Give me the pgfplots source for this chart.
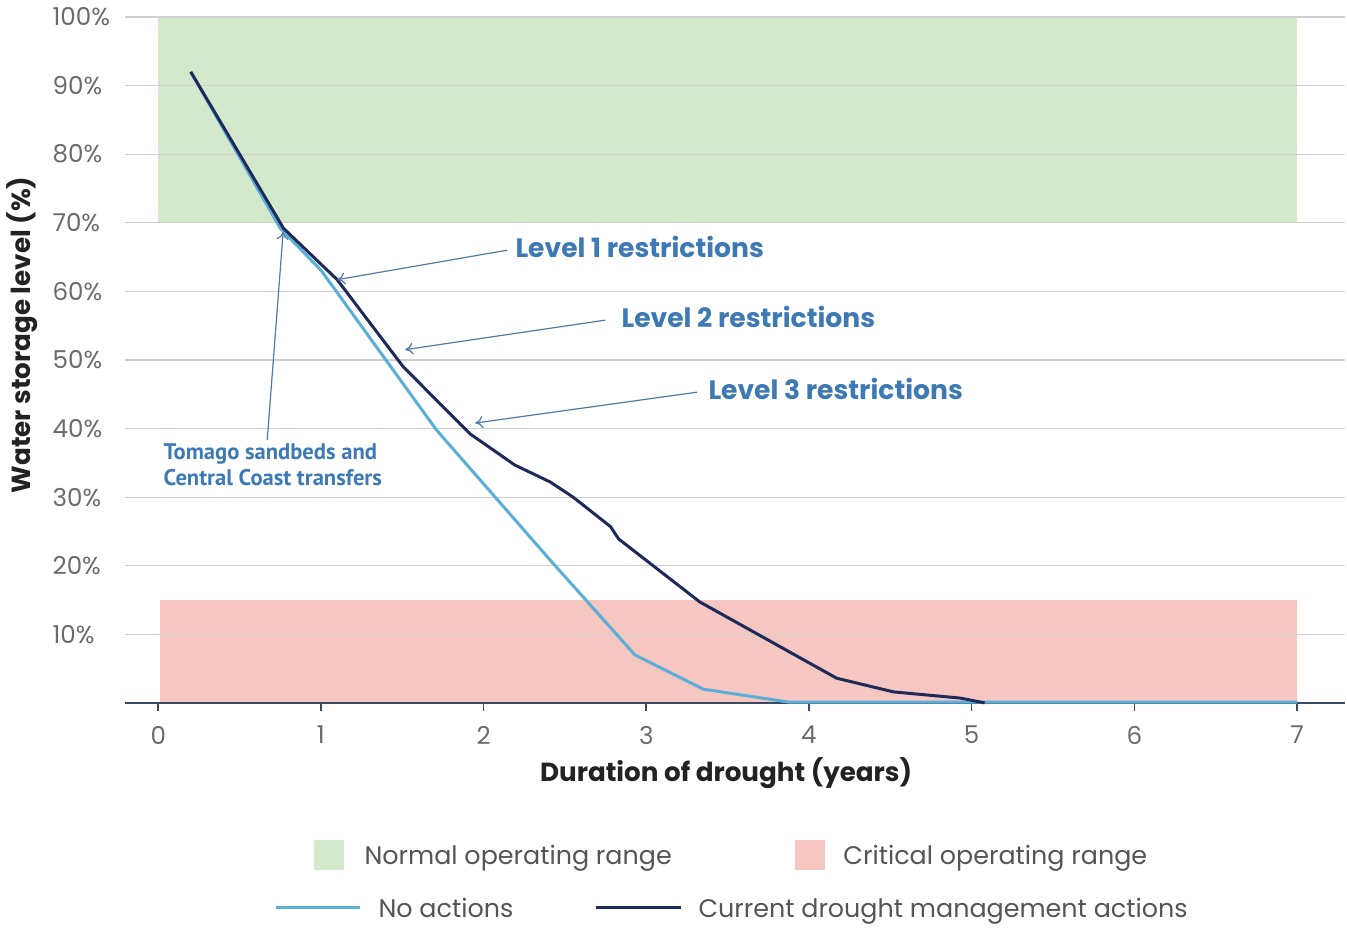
\documentclass[border=0pt]{standalone}
\usepackage{pgfplots}
\pgfplotsset{compat=1.18}
\usepackage{fontspec}
\setmainfont{Poppins}
\newfontfamily\tomagofont{PT Sans}
\definecolor{normgreen}{HTML}{D4E8CB}
\definecolor{critred}{HTML}{F6C6C1}
\definecolor{lightline}{HTML}{5AAFD9}
\definecolor{navyline}{HTML}{1E2A5A}
\definecolor{annot}{HTML}{3D7AB5}
\definecolor{arrowc}{HTML}{4F7BA6}
\definecolor{tickgray}{HTML}{6B6B6B}
\definecolor{gridgray}{HTML}{CFCFCF}
\definecolor{axisline}{HTML}{3B4A63}
\definecolor{labdark}{HTML}{222222}
\definecolor{legtext}{HTML}{555555}
\usetikzlibrary{arrows.meta}
\begin{document}
\begin{tikzpicture}
\begin{axis}[
  set layers,
  at={(0pt,0pt)}, anchor=south west,
  scale only axis, width=610pt, height=343pt,
  xmin=-0.203, xmax=7.295, ymin=0, ymax=100,
  axis x line*=bottom, axis y line*=left,
  x axis line style={draw=axisline, line width=1pt, -},
  y axis line style={draw=none},
  xtick={0,1,2,3,4,5,6,7},
  tick align=outside, major tick length=4pt,
  xtick style={draw=axisline, line width=0.8pt},
  ytick style={draw=none},
  ytick={10,20,30,40,50,60,70,80,90,100},
  yticklabels={10\%,20\%,30\%,40\%,50\%,60\%,70\%,80\%,90\%,100\%},
  ymajorgrids,
  major grid style={draw=gridgray, line width=0.6pt},
  /pgf/number format/assume math mode=true,
  xticklabel style={font=\fontsize{12.3}{14}\selectfont, text=tickgray, yshift=-4pt},
  yticklabel style={font=\fontsize{12.3}{14}\selectfont, text=tickgray, anchor=west, inner sep=0pt, xshift=-32.5pt},
  clip=false,
]
% operating ranges
\addplot[on layer=axis background, fill=normgreen, draw=none] coordinates {(0,70) (7,70) (7,100) (0,100)} -- cycle;
\addplot[on layer=axis background, fill=critred, draw=none] coordinates {(0.01,0) (7,0) (7,15) (0.01,15)} -- cycle;
% No actions
\addplot[lightline, line width=1.5pt, line join=round] coordinates {
 (0.2,92) (0.75,69.2) (1.0,63.1) (1.71,39.8) (2.41,20.8) (2.93,7.0) (3.35,2.0) (3.88,0.1) (7,0.1)};
% Current drought management actions
\addplot[navyline, line width=1.5pt, line join=round] coordinates {
 (0.2,92) (0.77,69.2) (1.10,61.7) (1.506,49.0) (1.918,39.2) (2.10,36.2) (2.19,34.7) (2.41,32.2) (2.55,30.0) (2.78,25.7) (2.83,23.9) (3.33,14.7) (4.17,3.6) (4.52,1.6) (4.93,0.7) (5.08,0)};
% annotations
\draw[arrowc, line width=0.6pt, -{To[length=4pt,width=6pt]}] (axis cs:2.145,66.0) -- (axis cs:1.100,61.7);
\draw[arrowc, line width=0.6pt, -{To[length=4pt,width=6pt]}] (axis cs:2.747,55.8) -- (axis cs:1.518,51.5);
\draw[arrowc, line width=0.6pt, -{To[length=4pt,width=6pt]}] (axis cs:3.313,45.3) -- (axis cs:1.948,40.8);
\draw[arrowc, line width=0.6pt, -{To[length=4pt,width=6pt]}] (axis cs:0.670,38.3) -- (axis cs:0.768,68.7);
\node[anchor=west, inner sep=0pt, text=annot, font=\fontsize{13.3}{15}\selectfont\bfseries] at (axis cs:2.194,66.5) {Level 1 restrictions};
\node[anchor=west, inner sep=0pt, text=annot, font=\fontsize{13.3}{15}\selectfont\bfseries] at (axis cs:2.846,56.3) {Level 2 restrictions};
\node[anchor=west, inner sep=0pt, text=annot, font=\fontsize{13.3}{15}\selectfont\bfseries] at (axis cs:3.380,45.8) {Level 3 restrictions};
\node[anchor=west, inner sep=0pt, text=annot, align=left, font=\tomagofont\fontsize{11.3}{13}\selectfont\bfseries] at (axis cs:0.031,34.7) {Tomago sandbeds and\\Central Coast transfers};
\end{axis}
% axis titles
\node[rotate=90, text=labdark, font=\fontsize{13.1}{15}\selectfont\bfseries] at (-51.5pt,184pt) {Water storage level (\%)};
\node[text=labdark, font=\fontsize{13.1}{15}\selectfont\bfseries] at (300.5pt,-35pt) {Duration of drought (years)};
% legend
\fill[normgreen] (94.5pt,-68.5pt) rectangle (109.5pt,-83.5pt);
\node[anchor=base west, inner sep=0pt, text=legtext, font=\fontsize{12.7}{15}\selectfont] at (119.5pt,-81pt) {Normal operating range};
\fill[critred] (335pt,-68.5pt) rectangle (350pt,-83.5pt);
\node[anchor=base west, inner sep=0pt, text=legtext, font=\fontsize{12.7}{15}\selectfont] at (359pt,-81pt) {Critical operating range};
\draw[lightline, line width=1.5pt] (75.5pt,-102.5pt) -- (117.5pt,-102.5pt);
\node[anchor=base west, inner sep=0pt, text=legtext, font=\fontsize{12.7}{15}\selectfont] at (126.5pt,-107.5pt) {No actions};
\draw[navyline, line width=1.5pt] (235.5pt,-102.5pt) -- (278pt,-102.5pt);
\node[anchor=base west, inner sep=0pt, text=legtext, font=\fontsize{12.7}{15}\selectfont] at (286.5pt,-107.5pt) {Current drought management actions};
\path (-62.5pt,-118pt) rectangle (611pt,351.5pt);
\end{tikzpicture}
\end{document}
